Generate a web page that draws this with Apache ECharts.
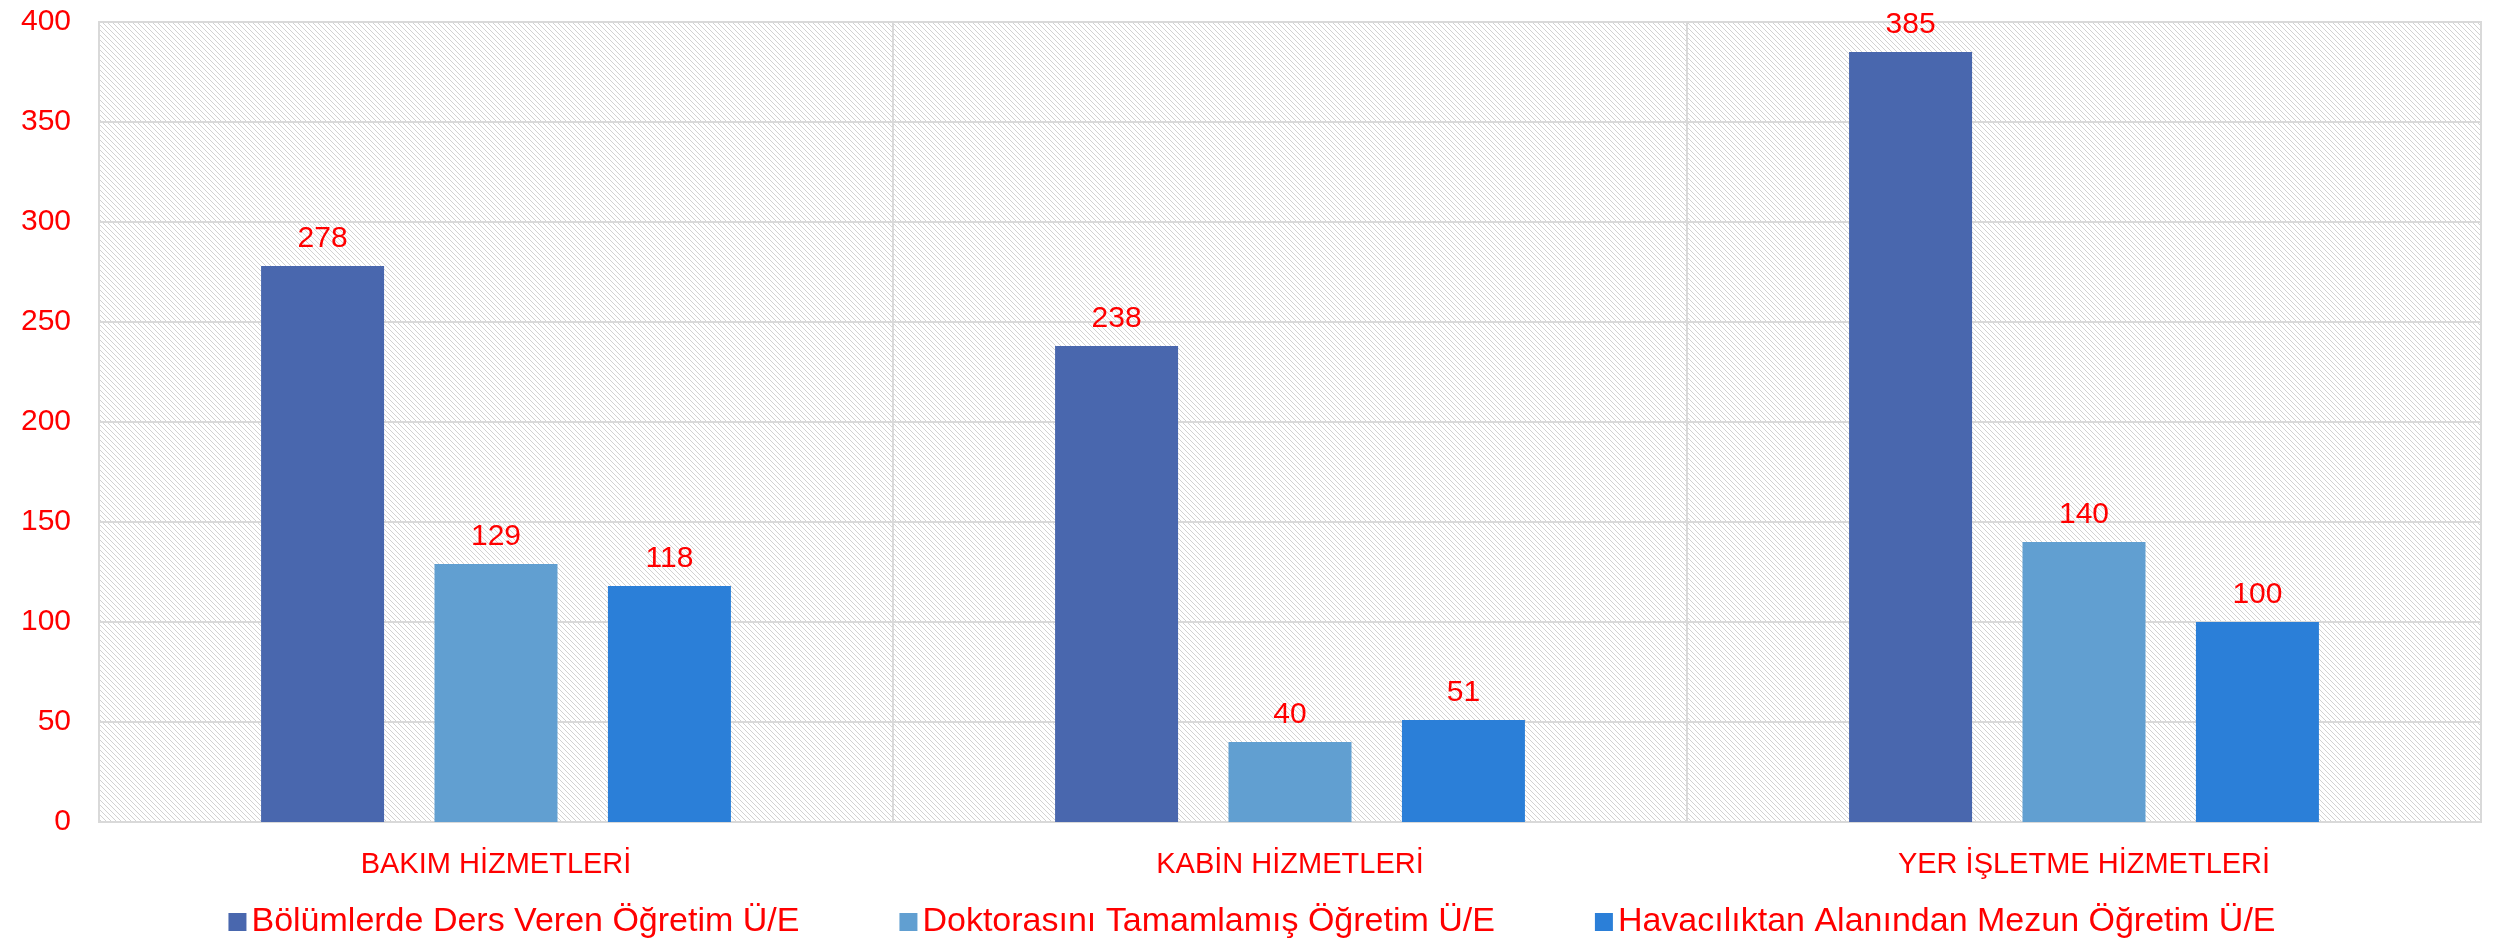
<!DOCTYPE html>
<html>
<head>
<meta charset="utf-8">
<script src="https://cdn.jsdelivr.net/npm/echarts@6/dist/echarts.min.js"></script>
<style>
  html, body { margin: 0; padding: 0; background: #fff; }
  #chart { width: 2504px; height: 948px; }
</style>
</head>
<body>
<div id="chart"></div>
<script>
const categories = ['BAKIM HİZMETLERİ', 'KABİN HİZMETLERİ', 'YER İŞLETME HİZMETLERİ']
const seriesNames = [
  'Bölümlerde Ders Veren Öğretim Ü/E',
  'Doktorasını Tamamlamış Öğretim Ü/E',
  'Havacılıktan Alanından Mezun Öğretim Ü/E'
]
const dersVeren = [278, 238, 385]
const doktora = [129, 40, 140]
const havacilik = [118, 51, 100]
const colors = ['#4967ae', '#619fd1', '#2b7fd8']

// hatch pattern for the plot background (thin "\" diagonals)
const hatch = document.createElement('canvas')
hatch.width = 5
hatch.height = 5
const ctx = hatch.getContext('2d')
ctx.fillStyle = '#ffffff'
ctx.fillRect(0, 0, 5, 5)
ctx.fillStyle = '#d2d2d2'
for (let i = 0; i < 5; i++) {
  ctx.fillRect(i, i, 1, 1)
}

const font = '"Liberation Sans", Lato, sans-serif'
const red = '#ff0000'

const chart = echarts.init(document.getElementById('chart'))

const makeSeries = (name, data, i) => ({
  name: name,
  type: 'bar',
  data: data,
  barWidth: 123,
  barGap: '41%',
  itemStyle: { color: colors[i] },
  label: {
    show: true,
    position: 'top',
    distance: 12,
    color: red,
    fontSize: 30,
    fontFamily: font
  }
})

chart.setOption({
  animation: false,
  textStyle: { fontFamily: font },
  grid: {
    left: 99,
    right: 23,
    top: 22,
    bottom: 126,
    show: true,
    borderColor: '#d9d9d9',
    borderWidth: 2,
    backgroundColor: { image: hatch, repeat: 'repeat' }
  },
  legend: {
    bottom: 4,
    left: 'center',
    itemWidth: 18,
    itemHeight: 18,
    itemGap: 100,
    icon: 'rect',
    textStyle: { color: red, fontSize: 34, fontFamily: font },
    data: seriesNames
  },
  xAxis: {
    type: 'category',
    data: categories,
    axisTick: { show: false },
    axisLine: { lineStyle: { color: '#d9d9d9', width: 2 } },
    splitLine: { show: true, lineStyle: { color: '#d9d9d9', width: 2 } },
    axisLabel: { color: red, fontSize: 29, margin: 28, fontFamily: font }
  },
  yAxis: {
    type: 'value',
    min: 0,
    max: 400,
    interval: 50,
    axisLine: { show: false },
    axisTick: { show: false },
    splitLine: { lineStyle: { color: '#d9d9d9', width: 2 } },
    axisLabel: { color: red, fontSize: 30, margin: 28, fontFamily: font }
  },
  series: [
    makeSeries(seriesNames[0], dersVeren, 0),
    makeSeries(seriesNames[1], doktora, 1),
    makeSeries(seriesNames[2], havacilik, 2)
  ]
})
</script>
</body>
</html>
